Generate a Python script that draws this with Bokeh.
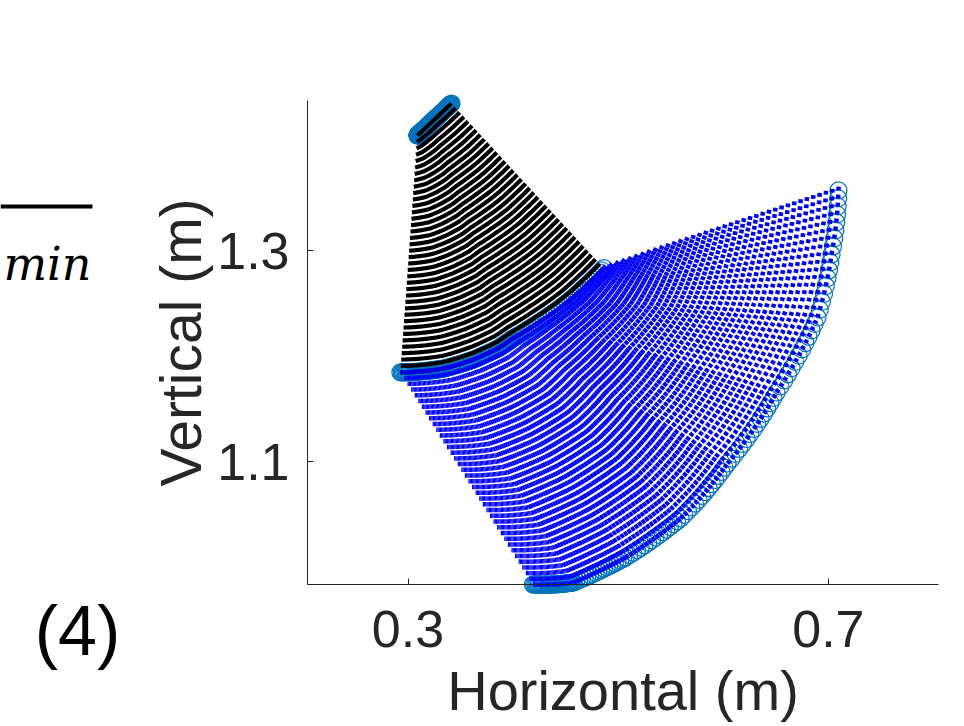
import numpy as np
from bokeh.plotting import figure
from bokeh.models import Range1d, FixedTicker
from bokeh.core.properties import value
from bokeh.embed import file_html
from bokeh.resources import INLINE

# ---- movement data (key poses of the arm) ----
n_frames = 125
key_frame = [0, 35, 54, 69, 83, 97, 109, 117, 125]
wrist_x = [0.4189, 0.4575, 0.5070, 0.5593, 0.6040, 0.6506, 0.6896, 0.7030, 0.7096]
wrist_y = [0.9834, 0.9853, 1.0090, 1.0460, 1.0981, 1.1654, 1.2365, 1.2962, 1.3569]
shoulder_x = [0.3090, 0.3115, 0.3149, 0.3190, 0.3233, 0.3285, 0.3337, 0.3375, 0.3414]
shoulder_y = [1.4090, 1.4113, 1.4145, 1.4183, 1.4224, 1.4272, 1.4321, 1.4357, 1.4393]
upper_arm_len = [0.2251, 0.2242, 0.2229, 0.2213, 0.2197, 0.2178, 0.2158, 0.2144, 0.2129]
forearm_len = [0.2374, 0.2372, 0.2370, 0.2367, 0.2364, 0.2361, 0.2357, 0.2355, 0.2352]

# points drawn along each link
n_link_points = 38

x_ticks = [0.3, 0.7]
y_ticks = [1.1, 1.3]
x_label = "Horizontal (m)"
y_label = "Vertical (m)"
panel_tag = "(4)"
subscript_text = "min"

# axes box (data units)
x_lo, x_hi = 0.2044, 0.8047
y_lo, y_hi = 0.9834, 1.4422

# ---- joint angles of each key pose (two-link arm reaching the wrist) ----
kx = np.array(wrist_x) - np.array(shoulder_x)
ky = np.array(wrist_y) - np.array(shoulder_y)
L1 = np.array(upper_arm_len)
L2 = np.array(forearm_len)
cos_b = np.clip((kx ** 2 + ky ** 2 - L1 ** 2 - L2 ** 2) / (2 * L1 * L2), -1, 1)
bend = np.arccos(cos_b)
theta1 = np.arctan2(ky, kx) - np.arctan2(L2 * np.sin(bend), L1 + L2 * np.cos(bend))

# ---- per-frame joint positions ----
frames = np.arange(n_frames + 1)
sx = np.interp(frames, key_frame, shoulder_x)
sy = np.interp(frames, key_frame, shoulder_y)
a1 = np.interp(frames, key_frame, theta1)
a2 = a1 + np.interp(frames, key_frame, bend)
l1 = np.interp(frames, key_frame, L1)
l2 = np.interp(frames, key_frame, L2)
ex = sx + l1 * np.cos(a1)
ey = sy + l1 * np.sin(a1)
wx = ex + l2 * np.cos(a2)
wy = ey + l2 * np.sin(a2)

frac = np.linspace(0.0, 1.0, n_link_points)

# the page: one plot whose frame is the whole canvas; the axes are pinned
W, H = 964, 726
ppu_x, ppu_y = 1051.0, 1055.0          # pixels per metre on screen
x0_canvas = 0.3 - 407.5 / ppu_x
y1_canvas = 1.3 + 250.0 / ppu_y
p = figure(width=W, height=H,
           x_range=Range1d(x0_canvas, x0_canvas + W / ppu_x),
           y_range=Range1d(y1_canvas - H / ppu_y, y1_canvas),
           output_backend="svg", toolbar_location=None, min_border=0)
p.outline_line_color = None
p.xgrid.visible = False
p.ygrid.visible = False
p.background_fill_color = "white"
p.border_fill_color = "white"

circ = dict(marker="circle", size=17, fill_color=None,
            line_color="#0072BD", line_width=1.2)
p.scatter(sx, sy, **circ)
p.scatter(ex, ey, **circ)
p.scatter(wx, wy, **circ)

# upper arm: paths of points along the link (black lines)
p.multi_line([list(sx + f * (ex - sx)) for f in frac],
             [list(sy + f * (ey - sy)) for f in frac],
             line_color="black", line_width=4.2)


def dotted_track(px_, py_, dot_px):
    """one dot starting at each frame; dots merge where frames are close"""
    dx = np.diff(px_)
    dy = np.diff(py_)
    lpx = np.hypot(dx * ppu_x, dy * ppu_y)
    t = np.minimum(1.0, dot_px / np.maximum(lpx, 1e-9))
    xs0 = np.append(px_[:-1], px_[-1])
    ys0 = np.append(py_[:-1], py_[-1])
    xs1 = np.append(px_[:-1] + t * dx, px_[-1] + t[-1] * dx[-1])
    ys1 = np.append(py_[:-1] + t * dy, py_[-1] + t[-1] * dy[-1])
    return xs0, ys0, xs1, ys1


# forearm: paths of points along the link (blue, dotted)
bl = [dotted_track(ex + f * (wx - ex), ey + f * (wy - ey), 3.8) for f in frac]
p.segment(x0=np.concatenate([b[0] for b in bl]), y0=np.concatenate([b[1] for b in bl]),
          x1=np.concatenate([b[2] for b in bl]), y1=np.concatenate([b[3] for b in bl]),
          line_color="#0000FF", line_width=4.5, line_cap="butt")

axis_color = "#262626"
for ax, ticks, lab in ((p.xaxis, x_ticks, x_label), (p.yaxis, y_ticks, y_label)):
    ax.ticker = FixedTicker(ticks=ticks)
    ax.minor_tick_line_color = None
    ax.axis_line_color = axis_color
    ax.axis_line_width = 1
    ax.major_tick_line_color = axis_color
    ax.major_tick_in = 6
    ax.major_tick_out = 0
    ax.major_label_text_font = "Liberation Sans"
    ax.major_label_text_font_size = "52px"
    ax.major_label_text_color = axis_color
    ax.axis_label = lab
    ax.axis_label_text_font = "Liberation Sans"
    ax.axis_label_text_font_style = "normal"
    ax.axis_label_text_color = axis_color
p.xaxis.axis_label_text_font_size = "56px"
p.yaxis.axis_label_text_font_size = "57px"
p.xaxis.fixed_location = y_lo
p.xaxis.bounds = (x_lo, x_hi)
p.yaxis.fixed_location = x_lo
p.yaxis.bounds = (y_lo, y_hi)
p.xaxis.major_label_standoff = 26
p.xaxis.axis_label_standoff = 9
p.yaxis.major_label_standoff = 18
p.yaxis.axis_label_standoff = 1

# pieces of the neighbouring panel visible at the left edge
p.segment(x0=[x0_canvas], y0=[1.3 + 44 / ppu_y], x1=[0.3 - 315.5 / ppu_x],
          y1=[1.3 + 44 / ppu_y], line_color="black", line_width=4)
p.text(x=[0.3 - 404.5 / ppu_x], y=[1.3 - 13 / ppu_y], text=[subscript_text],
       text_font=value("DejaVu Serif"), text_font_style="italic",
       text_font_size="46px", text_align="left", text_baseline="alphabetic",
       text_color="black")
p.text(x=[0.3 - 330.5 / ppu_x], y=[1.3 - 380 / ppu_y], text=[panel_tag],
       text_font=value("Liberation Sans"), text_font_size="70px",
       text_align="center", text_baseline="middle", text_color="black")

open("out.html", "w").write(file_html(p, INLINE))
